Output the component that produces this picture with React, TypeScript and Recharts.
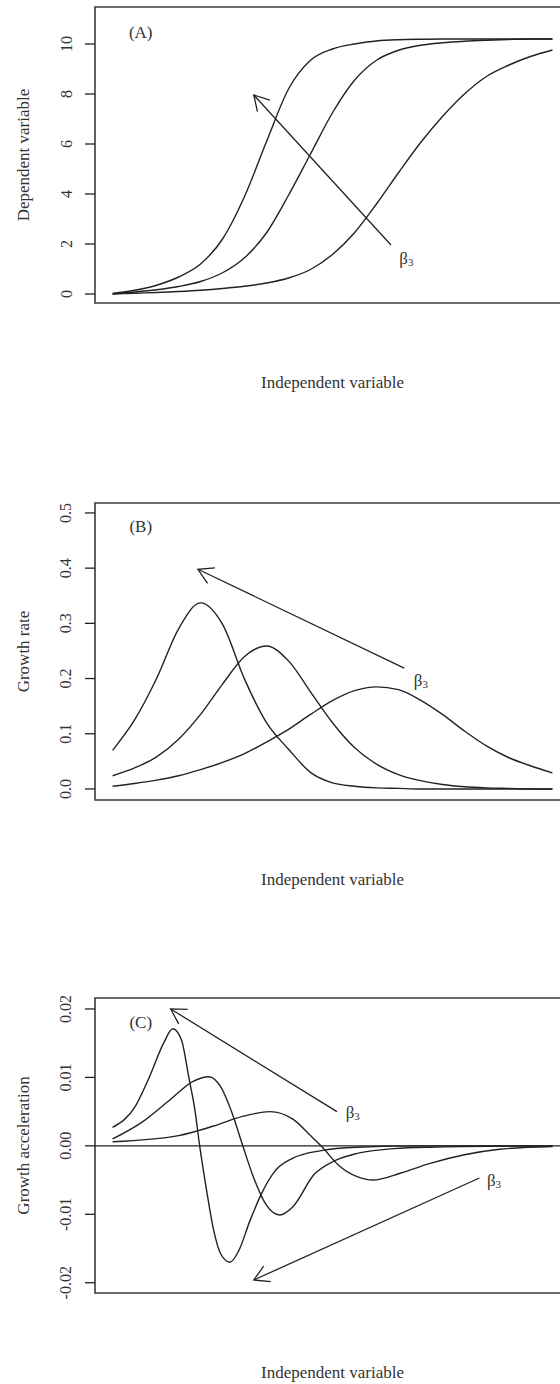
import React from 'react';
import {
  LineChart,
  Line,
  XAxis,
  YAxis,
  ReferenceArea,
  ReferenceLine,
  ReferenceDot,
} from 'recharts';

const FONT = '"Liberation Serif", "Times New Roman", serif';
const INK = '#222';
const TEXT_INK = '#333';

// shared x grid for panels A and B (arbitrary units)
const gridX = [0, 5, 10, 15, 20, 25, 30, 35, 40, 45, 50, 55, 60, 65, 70, 75, 80, 85, 90, 95, 100];

// (A) size curves, fastest to slowest
const sizeFast = [0.02, 0.15, 0.35, 0.68, 1.2, 2.2, 3.9, 6.1, 8.2, 9.35, 9.8, 10.0, 10.12, 10.17, 10.19, 10.2, 10.2, 10.2, 10.2, 10.2, 10.2];
const sizeMid = [0.01, 0.08, 0.17, 0.3, 0.5, 0.85, 1.45, 2.45, 3.95, 5.6, 7.25, 8.55, 9.35, 9.75, 9.95, 10.05, 10.11, 10.15, 10.18, 10.2, 10.2];
const sizeSlow = [0.0, 0.03, 0.06, 0.1, 0.15, 0.22, 0.31, 0.44, 0.64, 0.98, 1.58, 2.45, 3.6, 4.85, 6.05, 7.1, 8.0, 8.7, 9.15, 9.5, 9.76];

// (B) growth rate curves
const rateFast = [0.07, 0.125, 0.2, 0.29, 0.337, 0.298, 0.199, 0.12, 0.072, 0.03, 0.011, 0.005, 0.002, 0.001, 0, 0, 0, 0, 0, 0, 0];
const rateMid = [0.024, 0.038, 0.058, 0.09, 0.135, 0.19, 0.24, 0.259, 0.232, 0.176, 0.12, 0.075, 0.045, 0.026, 0.015, 0.008, 0.004, 0.002, 0.001, 0, 0];
const rateSlow = [0.005, 0.01, 0.016, 0.024, 0.035, 0.048, 0.064, 0.085, 0.108, 0.135, 0.16, 0.178, 0.185, 0.18, 0.161, 0.135, 0.105, 0.078, 0.057, 0.042, 0.029];

// (C) growth acceleration, each curve on its own x points
const accelFastX = [0, 5.2, 8.4, 11.6, 13.7, 15.7, 17.3, 18.7, 19.8, 21.4, 23.0, 24.6, 26.7, 28.7, 31.2, 33.7, 36.9, 41.0, 47.4, 55.6, 70, 100];
const accelFastY = [0.0027, 0.0058, 0.0101, 0.015, 0.0171, 0.0154, 0.0101, 0.0053, 0.0, -0.0066, -0.0124, -0.0158, -0.017, -0.0153, -0.011, -0.0072, -0.0037, -0.0018, -0.0007, -0.0002, 0, 0];
const accelMidX = [0, 6.8, 13.2, 18.2, 21.9, 24.6, 27.1, 29.6, 32.1, 34.9, 38.0, 41.0, 45.8, 50.8, 55.6, 64, 72, 100];
const accelMidY = [0.001, 0.0035, 0.0068, 0.0094, 0.0101, 0.0086, 0.0049, 0.0, -0.0047, -0.0086, -0.0101, -0.0089, -0.0042, -0.0021, -0.0011, -0.0004, -0.0002, 0];
const accelSlowX = [0, 15, 23, 29.6, 35.8, 41, 45, 47.4, 51.5, 55.6, 59.2, 65.4, 72, 80, 88, 100];
const accelSlowY = [0.0006, 0.0015, 0.0029, 0.0043, 0.005, 0.0039, 0.0015, 0.0, -0.0029, -0.0045, -0.005, -0.004, -0.0026, -0.0013, -0.0005, -0.0001];

const ticksA = [0, 2, 4, 6, 8, 10];
const ticksB = [0, 0.1, 0.2, 0.3, 0.4, 0.5];
const ticksC = [-0.02, -0.01, 0, 0.01, 0.02];

const X_DOMAIN: [number, number] = [-4, 104];
const TITLE_SIZE = 17;
const TICK_SIZE = 16;

const tableAB = gridX.map((x, i) => ({
  x,
  sizeFast: sizeFast[i],
  sizeMid: sizeMid[i],
  sizeSlow: sizeSlow[i],
  rateFast: rateFast[i],
  rateMid: rateMid[i],
  rateSlow: rateSlow[i],
}));

const toPoints = (xs: number[], ys: number[]) => xs.map((x, i) => ({ x, y: ys[i] }));

// open R-style arrowhead at the second point of the segment
const Arrow = (props: any) => {
  const { x1, y1, x2, y2 } = props;
  const ang = Math.atan2(y2 - y1, x2 - x1);
  const len = 17;
  const spread = Math.PI / 6;
  const a = ang + Math.PI - spread;
  const b = ang + Math.PI + spread;
  return (
    <g stroke={INK} strokeWidth={1.3} fill="none">
      <line x1={x1} y1={y1} x2={x2} y2={y2} />
      <polyline
        points={`${x2 + len * Math.cos(a)},${y2 + len * Math.sin(a)} ${x2},${y2} ${x2 + len * Math.cos(b)},${y2 + len * Math.sin(b)}`}
      />
    </g>
  );
};

const BetaLabel = (props: any) => (
  <text x={props.cx} y={props.cy} fontFamily={FONT} fontSize={TITLE_SIZE} fill={TEXT_INK} dominantBaseline="central">
    β<tspan fontSize={11} dy={4}>3</tspan>
  </text>
);

const PanelTag = (text: string) => (props: any) => (
  <text x={props.cx} y={props.cy} fontFamily={FONT} fontSize={TITLE_SIZE} fill={TEXT_INK} textAnchor="middle" dominantBaseline="central">
    {text}
  </text>
);

// x-axis title, hung a fixed distance below the bottom of the box
const XTitle = (props: any) => (
  <text x={props.cx} y={props.cy + 79} fontFamily={FONT} fontSize={TITLE_SIZE} fill={TEXT_INK} textAnchor="middle" dominantBaseline="central">
    Independent variable
  </text>
);

const RotTick = (fmt: (v: number) => string) => (props: any) => {
  const { x, y, payload } = props;
  const tx = x - 17;
  return (
    <text
      x={tx}
      y={y}
      transform={`rotate(-90 ${tx} ${y})`}
      textAnchor="middle"
      dominantBaseline="central"
      fontFamily={FONT}
      fontSize={TICK_SIZE}
      fill={TEXT_INK}
    >
      {fmt(payload.value)}
    </text>
  );
};

const YTitle = (text: string) => (props: any) => {
  const vb = props.viewBox;
  const cy = vb.y + vb.height / 2;
  return (
    <text x={23} y={cy} transform={`rotate(-90 23 ${cy})`} textAnchor="middle" dominantBaseline="central" fontFamily={FONT} fontSize={TITLE_SIZE} fill={TEXT_INK}>
      {text}
    </text>
  );
};

type PanelProps = {
  top: number;
  plotHeight: number;
  yDomain: [number, number];
  ticks: number[];
  fmt: (v: number) => string;
  yTitle: string;
  children: React.ReactNode;
  data?: any[];
};

const CHART_W = 600;
const CHART_H = 400;

const Panel = ({ top, plotHeight, yDomain, ticks, fmt, yTitle, children, data }: PanelProps) => (
  <div style={{ position: 'absolute', left: 0, top }}>
    <LineChart
      width={CHART_W}
      height={CHART_H}
      data={data}
      margin={{ top: 7, right: 30, bottom: CHART_H - 7 - plotHeight, left: 0 }}
    >
      <XAxis dataKey="x" type="number" domain={X_DOMAIN} allowDataOverflow hide />
      <YAxis
        type="number"
        domain={yDomain}
        allowDataOverflow
        ticks={ticks}
        width={95}
        axisLine={false}
        tickSize={10}
        tickMargin={2}
        tickLine={{ stroke: INK, strokeWidth: 1.3 }}
        tick={RotTick(fmt)}
        interval={0}
        label={{ content: YTitle(yTitle) }}
      />
      <ReferenceArea
        x1={X_DOMAIN[0]}
        x2={X_DOMAIN[1]}
        y1={yDomain[0]}
        y2={yDomain[1]}
        fill="none"
        stroke="#3a3a3a"
        strokeWidth={1.6}
        ifOverflow="visible"
      />
      <ReferenceDot x={50} y={yDomain[0]} r={0} shape={XTitle} ifOverflow="visible" />
      {children}
    </LineChart>
  </div>
);

const lineStyle = {
  type: 'monotone' as const,
  dot: false,
  stroke: INK,
  strokeWidth: 1.4,
  isAnimationActive: false,
};

export default function App() {
  return (
    <div
      style={{
        position: 'absolute',
        left: 0,
        top: 0,
        width: 560,
        height: 1384,
        overflow: 'hidden',
        background: '#fff',
      }}
    >
      <Panel top={0} plotHeight={296} yDomain={[-0.36, 11.48]} ticks={ticksA} fmt={(v) => String(v)} yTitle="Dependent variable" data={tableAB}>
        <Line dataKey="sizeFast" {...lineStyle} />
        <Line dataKey="sizeMid" {...lineStyle} />
        <Line dataKey="sizeSlow" {...lineStyle} />
        <ReferenceLine segment={[{ x: 63.3, y: 1.96 }, { x: 32.1, y: 7.96 }]} shape={Arrow} ifOverflow="visible" />
        <ReferenceDot x={65.2} y={1.44} r={0} shape={BetaLabel} ifOverflow="visible" />
        <ReferenceDot x={6.4} y={10.48} r={0} shape={PanelTag('(A)')} ifOverflow="visible" />
      </Panel>

      <Panel top={496} plotHeight={297} yDomain={[-0.02, 0.518]} ticks={ticksB} fmt={(v) => v.toFixed(1)} yTitle="Growth rate" data={tableAB}>
        <Line dataKey="rateFast" {...lineStyle} />
        <Line dataKey="rateMid" {...lineStyle} />
        <Line dataKey="rateSlow" {...lineStyle} />
        <ReferenceLine segment={[{ x: 66.3, y: 0.219 }, { x: 19.4, y: 0.398 }]} shape={Arrow} ifOverflow="visible" />
        <ReferenceDot x={68.5} y={0.197} r={0} shape={BetaLabel} ifOverflow="visible" />
        <ReferenceDot x={6.4} y={0.475} r={0} shape={PanelTag('(B)')} ifOverflow="visible" />
      </Panel>

      <Panel top={991} plotHeight={295} yDomain={[-0.0215, 0.0216]} ticks={ticksC} fmt={(v) => v.toFixed(2)} yTitle="Growth acceleration">
        <ReferenceLine y={0} stroke={INK} strokeWidth={1.4} />
        <Line data={toPoints(accelFastX, accelFastY)} dataKey="y" {...lineStyle} />
        <Line data={toPoints(accelMidX, accelMidY)} dataKey="y" {...lineStyle} />
        <Line data={toPoints(accelSlowX, accelSlowY)} dataKey="y" {...lineStyle} />
        <ReferenceLine segment={[{ x: 51.0, y: 0.005 }, { x: 13.2, y: 0.02 }]} shape={Arrow} ifOverflow="visible" />
        <ReferenceLine segment={[{ x: 83.4, y: -0.0047 }, { x: 32.1, y: -0.0196 }]} shape={Arrow} ifOverflow="visible" />
        <ReferenceDot x={53.0} y={0.0049} r={0} shape={BetaLabel} ifOverflow="visible" />
        <ReferenceDot x={85.1} y={-0.005} r={0} shape={BetaLabel} ifOverflow="visible" />
        <ReferenceDot x={6.4} y={0.018} r={0} shape={PanelTag('(C)')} ifOverflow="visible" />
      </Panel>
    </div>
  );
}
